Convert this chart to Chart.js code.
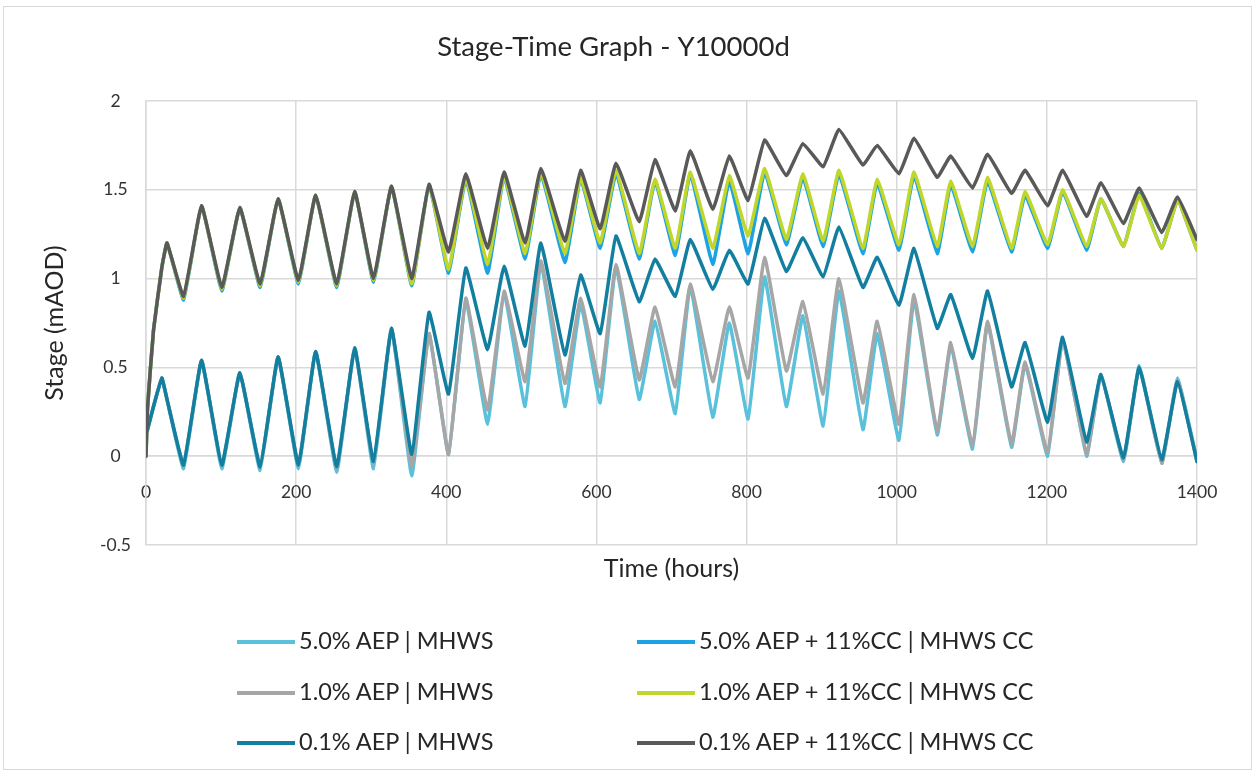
<!DOCTYPE html>
<html>
<head>
<meta charset="utf-8">
<title>Stage-Time Graph - Y10000d</title>
<script src="https://cdn.jsdelivr.net/npm/chart.js@4.4.0/dist/chart.umd.min.js"></script>
<style>
  body { margin: 0; background: #fff; }
  #wrap { position: relative; width: 1256px; height: 774px; overflow: hidden; }
  #frame { position: absolute; left: 3px; top: 6px; width: 1249px; height: 764px;
           border: 1px solid #d9d9d9; box-sizing: border-box; }
  #chart { position: absolute; left: 0; top: 0; }
  .item { position: absolute; font-family: Lato, sans-serif; font-size: 23.5px; color: #262626;
          white-space: nowrap; transform: translateY(-50%); }
  .item span.swatch { display: inline-block; width: 58px; height: 4px; vertical-align: middle;
                      margin-right: 4px; position: relative; top: -1px; }
</style>
</head>
<body>
<div id="wrap">
  <div id="frame"></div>
  <canvas id="chart" width="1256" height="774"></canvas>
  <div id="legend"></div>
</div>
<script>
// Time axis (hours) - one entry per turning point
var hours = [0, 2, 10, 21, 28, 50, 74, 101, 125, 152, 176, 203, 226, 254, 278,
  303, 327, 354, 377, 403, 426, 455, 477, 505, 526, 558, 579, 605, 626, 657,
  678, 705, 725, 755, 777, 802, 824, 853, 875, 902, 923, 955, 974, 1003, 1023,
  1054, 1072, 1101, 1121, 1153, 1171, 1201, 1221, 1253, 1272, 1302, 1323, 1353, 1374, 1400];

// Stage (mAOD) for each series
var aep50 = [0.13, 0.15, 0.28, 0.44, 0.32, -0.07, 0.54, -0.07, 0.47, -0.08,
  0.56, -0.07, 0.59, -0.09, 0.61, -0.07, 0.72, -0.11, 0.69, 0.01,
  0.88, 0.18, 0.92, 0.28, 1.09, 0.28, 0.86, 0.30, 1.07, 0.32,
  0.76, 0.24, 0.96, 0.22, 0.75, 0.21, 1.01, 0.28, 0.79, 0.17,
  0.93, 0.15, 0.69, 0.09, 0.88, 0.12, 0.62, 0.04, 0.75, 0.05,
  0.52, 0.00, 0.66, 0.00, 0.46, -0.03, 0.51, -0.04, 0.44, -0.02];
var aep50cc = [0.00, 0.27, 0.71, 1.06, 1.20, 0.88, 1.41, 0.93, 1.40, 0.95,
  1.45, 0.97, 1.47, 0.95, 1.49, 0.98, 1.52, 0.96, 1.53, 1.03,
  1.56, 1.03, 1.57, 1.11, 1.59, 1.09, 1.56, 1.17, 1.59, 1.11,
  1.55, 1.13, 1.59, 1.08, 1.55, 1.14, 1.60, 1.19, 1.57, 1.18,
  1.59, 1.14, 1.54, 1.16, 1.58, 1.14, 1.53, 1.15, 1.55, 1.15,
  1.47, 1.17, 1.49, 1.16, 1.45, 1.18, 1.48, 1.17, 1.44, 1.16];
var aep10 = [0.13, 0.15, 0.28, 0.44, 0.32, -0.05, 0.54, -0.05, 0.47, -0.06,
  0.56, -0.05, 0.59, -0.07, 0.61, -0.04, 0.72, -0.06, 0.69, 0.01,
  0.89, 0.26, 0.93, 0.42, 1.10, 0.41, 0.89, 0.39, 1.08, 0.43,
  0.84, 0.39, 0.97, 0.42, 0.84, 0.44, 1.12, 0.48, 0.87, 0.35,
  1.00, 0.30, 0.76, 0.18, 0.91, 0.14, 0.64, 0.06, 0.76, 0.07,
  0.53, 0.02, 0.66, 0.01, 0.46, -0.02, 0.50, -0.04, 0.43, -0.03];
var aep10cc = [0.00, 0.27, 0.71, 1.06, 1.20, 0.89, 1.41, 0.94, 1.40, 0.96,
  1.45, 0.98, 1.47, 0.96, 1.49, 0.99, 1.52, 0.97, 1.53, 1.05,
  1.57, 1.08, 1.58, 1.14, 1.60, 1.14, 1.57, 1.20, 1.61, 1.14,
  1.56, 1.17, 1.60, 1.17, 1.58, 1.24, 1.62, 1.22, 1.59, 1.21,
  1.61, 1.17, 1.56, 1.19, 1.60, 1.18, 1.55, 1.18, 1.57, 1.17,
  1.49, 1.19, 1.50, 1.18, 1.45, 1.18, 1.47, 1.17, 1.44, 1.16];
var aep01 = [0.13, 0.15, 0.28, 0.44, 0.32, -0.05, 0.54, -0.05, 0.47, -0.06,
  0.56, -0.05, 0.59, -0.06, 0.61, -0.03, 0.72, 0.01, 0.81, 0.35,
  1.06, 0.60, 1.07, 0.62, 1.20, 0.57, 1.02, 0.69, 1.24, 0.87,
  1.11, 0.90, 1.22, 0.94, 1.16, 0.97, 1.34, 1.04, 1.23, 1.01,
  1.29, 0.95, 1.12, 0.85, 1.17, 0.72, 0.91, 0.55, 0.93, 0.39,
  0.64, 0.19, 0.67, 0.08, 0.46, -0.01, 0.50, -0.02, 0.42, -0.03];
var aep01cc = [0.00, 0.27, 0.71, 1.06, 1.20, 0.90, 1.41, 0.95, 1.40, 0.97,
  1.45, 0.99, 1.47, 0.97, 1.49, 1.00, 1.52, 1.00, 1.53, 1.15,
  1.59, 1.17, 1.60, 1.20, 1.62, 1.21, 1.61, 1.28, 1.65, 1.32,
  1.67, 1.38, 1.72, 1.39, 1.69, 1.44, 1.78, 1.58, 1.76, 1.63,
  1.84, 1.64, 1.75, 1.59, 1.79, 1.57, 1.69, 1.51, 1.70, 1.48,
  1.61, 1.41, 1.61, 1.35, 1.54, 1.31, 1.51, 1.26, 1.46, 1.22];

var seriesNames = ['5.0% AEP | MHWS', '5.0% AEP + 11%CC | MHWS CC',
  '1.0% AEP | MHWS', '1.0% AEP + 11%CC | MHWS CC',
  '0.1% AEP | MHWS', '0.1% AEP + 11%CC | MHWS CC'];
var seriesValues = [aep50, aep50cc, aep10, aep10cc, aep01, aep01cc];
var seriesColors = ['#5bc1da', '#1ba3e6', '#a6a6a6', '#c0d62a', '#127fa0', '#595959'];

var xTicks = [0, 200, 400, 600, 800, 1000, 1200, 1400];

// Build datasets (later series drawn on top, like Excel)
var datasets = seriesNames.map(function(name, i) {
  return {
    label: name,
    data: hours.map(function(h, j) { return {x: h, y: seriesValues[i][j]}; }),
    borderColor: seriesColors[i],
    backgroundColor: seriesColors[i],
    borderWidth: 3.5,
    pointRadius: 0,
    tension: 0.1,
    borderJoinStyle: 'round',
    borderCapStyle: 'round',
    order: -i
  };
});

var ctx = document.getElementById('chart').getContext('2d');
var chart = new Chart(ctx, {
  type: 'line',
  data: { datasets: datasets },
  options: {
    responsive: false,
    animation: false,
    layout: { padding: { left: 30, right: 59, top: 16, bottom: 229 } },
    plugins: {
      legend: { display: false },
      tooltip: { enabled: false },
      title: {
        display: true,
        text: 'Stage-Time Graph - Y10000d',
        color: '#262626',
        font: { family: 'Lato', size: 27.5, weight: 'normal' },
        padding: { top: 15, bottom: 37 }
      }
    },
    scales: {
      x: {
        type: 'linear',
        position: { y: 0 },
        min: 0,
        max: 1400,
        afterBuildTicks: function(scale) {
          scale.ticks = xTicks.map(function(v) { return {value: v}; });
        },
        ticks: {
          color: '#333',
          font: { family: 'Lato', size: 17.5 },
          padding: 26,
          maxRotation: 0,
          callback: function(v) { return String(v); }
        },
        grid: { color: '#d9d9d9', lineWidth: 1.5, drawTicks: false },
        border: { color: '#d9d9d9', width: 1.5 },
        title: {
          display: true,
          text: 'Time (hours)',
          color: '#262626',
          font: { family: 'Lato', size: 25 },
          padding: { top: 25, bottom: 0 }
        }
      },
      y: {
        min: -0.5,
        max: 2,
        afterFit: function(scale) { scale.width = 116; },
        ticks: {
          stepSize: 0.5,
          color: '#333',
          font: { family: 'Lato', size: 17.5 },
          padding: 15,
          crossAlign: 'center',
          callback: function(v) { return String(Math.round(v * 10) / 10); }
        },
        grid: { color: '#d9d9d9', lineWidth: 1.5, drawTicks: false },
        border: { color: '#d9d9d9', width: 1.5 },
        title: {
          display: true,
          text: 'Stage (mAOD)',
          color: '#262626',
          font: { family: 'Lato', size: 25 },
          padding: { top: 10, bottom: 0 }
        }
      }
    }
  }
});

// Legend: two columns, three rows, like the Excel legend
var legend = document.getElementById('legend');
var colX = [237, 637];
var rowY = [640, 691, 741];
seriesNames.forEach(function(name, i) {
  var el = document.createElement('div');
  el.className = 'item';
  el.style.left = colX[i % 2] + 'px';
  el.style.top = rowY[Math.floor(i / 2)] + 'px';
  var sw = document.createElement('span');
  sw.className = 'swatch';
  sw.style.background = seriesColors[i];
  el.appendChild(sw);
  el.appendChild(document.createTextNode(name));
  legend.appendChild(el);
});
</script>
</body>
</html>
